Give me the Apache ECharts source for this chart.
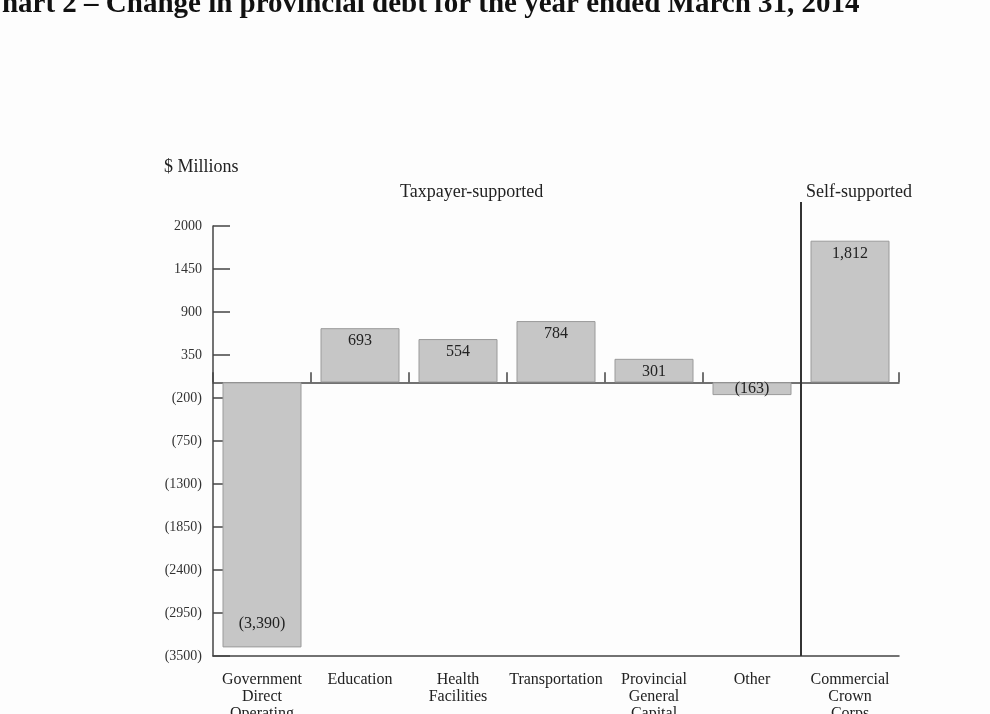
<!DOCTYPE html>
<html>
<head>
<meta charset="utf-8">
<title>Change in provincial debt</title>
<script src="https://cdn.jsdelivr.net/npm/echarts@6/dist/echarts.min.js"></script>
<style>
  html, body { margin: 0; padding: 0; background: #ffffff; }
  #chart { width: 990px; height: 714px; }
</style>
</head>
<body>
<div id="chart"></div>
<script>
// Change in provincial debt by sector, $ millions
const categories = [
  'Government\nDirect\nOperating',
  'Education',
  'Health\nFacilities',
  'Transportation',
  'Provincial\nGeneral\nCapital',
  'Other',
  'Commercial\nCrown\nCorps'
];
const debtChange = [-3390, 693, 554, 784, 301, -163, 1812];

// Value axis range and step
const yMin = -3500;
const yMax = 2000;
const yStep = 550;

const titleText = 'Chart 2 \u2013 Change in provincial debt for the year ended March 31, 2014';
const unitText = '$ Millions';
const groupLabels = ['Taxpayer-supported', 'Self-supported'];

const serif = '"Liberation Serif", "DejaVu Serif", serif';
const axisColor = '#444444';

function paren(v) {
  const s = Math.abs(v).toLocaleString('en-US');
  return v < 0 ? '(' + s + ')' : s;
}

const chart = echarts.init(document.getElementById('chart'), null, { renderer: 'canvas' });

const barData = debtChange.map(function (v) {
  let pos = 'insideTop';
  let dist = 5;
  if (v < 0) {
    // tall negative bars carry the label near their foot; short ones in the middle
    if (Math.abs(v) > 1000) { pos = 'insideBottom'; dist = 16; } else { pos = 'inside'; dist = 0; }
  }
  return { value: v, label: { position: pos, distance: dist } };
});

const option = {
  backgroundColor: '#fdfdfd',
  animation: false,
  title: {
    text: titleText,
    left: -19,
    top: -10,
    padding: 0,
    textStyle: { fontFamily: serif, fontSize: 29, fontWeight: 'bold', color: '#111111' }
  },
  grid: { left: 213, right: 91, top: 226, bottom: 58, containLabel: false, outerBoundsMode: 'none' },
  xAxis: [
    {
      type: 'category',
      data: categories,
      position: 'bottom',
      axisLine: { show: true, onZero: false, lineStyle: { color: axisColor, width: 1.5 } },
      axisTick: { show: false },
      axisLabel: {
        interval: 0,
        margin: 15,
        fontFamily: serif,
        fontSize: 16,
        lineHeight: 17,
        color: '#222222',
        align: 'center'
      },
      splitLine: { show: false }
    },
    {
      // zero baseline with small boundary ticks
      type: 'category',
      data: categories,
      position: 'bottom',
      axisLine: { show: true, onZero: true, lineStyle: { color: axisColor, width: 1.5 } },
      axisTick: { show: true, inside: true, length: 10, interval: 0, lineStyle: { color: axisColor, width: 1.5 } },
      axisLabel: { show: false },
      splitLine: { show: false }
    }
  ],
  yAxis: {
    type: 'value',
    min: yMin,
    max: yMax,
    interval: yStep,
    axisLine: { show: true, onZero: false, lineStyle: { color: axisColor, width: 1.5 } },
    axisTick: { show: true, inside: true, length: 17, lineStyle: { color: axisColor, width: 1.5 } },
    axisLabel: {
      margin: 11,
      fontFamily: serif,
      fontSize: 14,
      color: '#333333',
      formatter: function (v) { return v < 0 ? '(' + Math.abs(v) + ')' : String(v); }
    },
    splitLine: { show: false }
  },
  series: [
    {
      type: 'bar',
      xAxisIndex: 0,
      data: barData,
      barWidth: 79,
      itemStyle: { color: '#c6c6c6', borderColor: '#9a9a9a', borderWidth: 1 },
      label: {
        show: true,
        fontFamily: serif,
        fontSize: 16,
        color: '#222222',
        formatter: function (p) { return paren(p.value); }
      }
    }
  ],
  graphic: [
    {
      type: 'text', left: 164, top: 158,
      style: { text: unitText, font: '18px ' + serif, fill: '#222222' }
    },
    {
      type: 'text', left: 400, top: 183,
      style: { text: groupLabels[0], font: '18px ' + serif, fill: '#222222' }
    },
    {
      type: 'text', left: 806, top: 183,
      style: { text: groupLabels[1], font: '18px ' + serif, fill: '#222222' }
    }
  ]
};

chart.setOption(option);

// divider between taxpayer-supported and self-supported sectors
const xA = chart.convertToPixel({ xAxisIndex: 0 }, categories[5]);
const xB = chart.convertToPixel({ xAxisIndex: 0 }, categories[6]);
const xDiv = (xA + xB) / 2;
const yTop = chart.convertToPixel({ yAxisIndex: 0 }, yMax) - 24;
const yBottom = chart.convertToPixel({ yAxisIndex: 0 }, yMin);

chart.setOption({
  graphic: option.graphic.concat([
    {
      type: 'line',
      z: 10,
      shape: { x1: xDiv, y1: yTop, x2: xDiv, y2: yBottom },
      style: { stroke: '#333333', lineWidth: 2 }
    }
  ])
});
</script>
</body>
</html>
